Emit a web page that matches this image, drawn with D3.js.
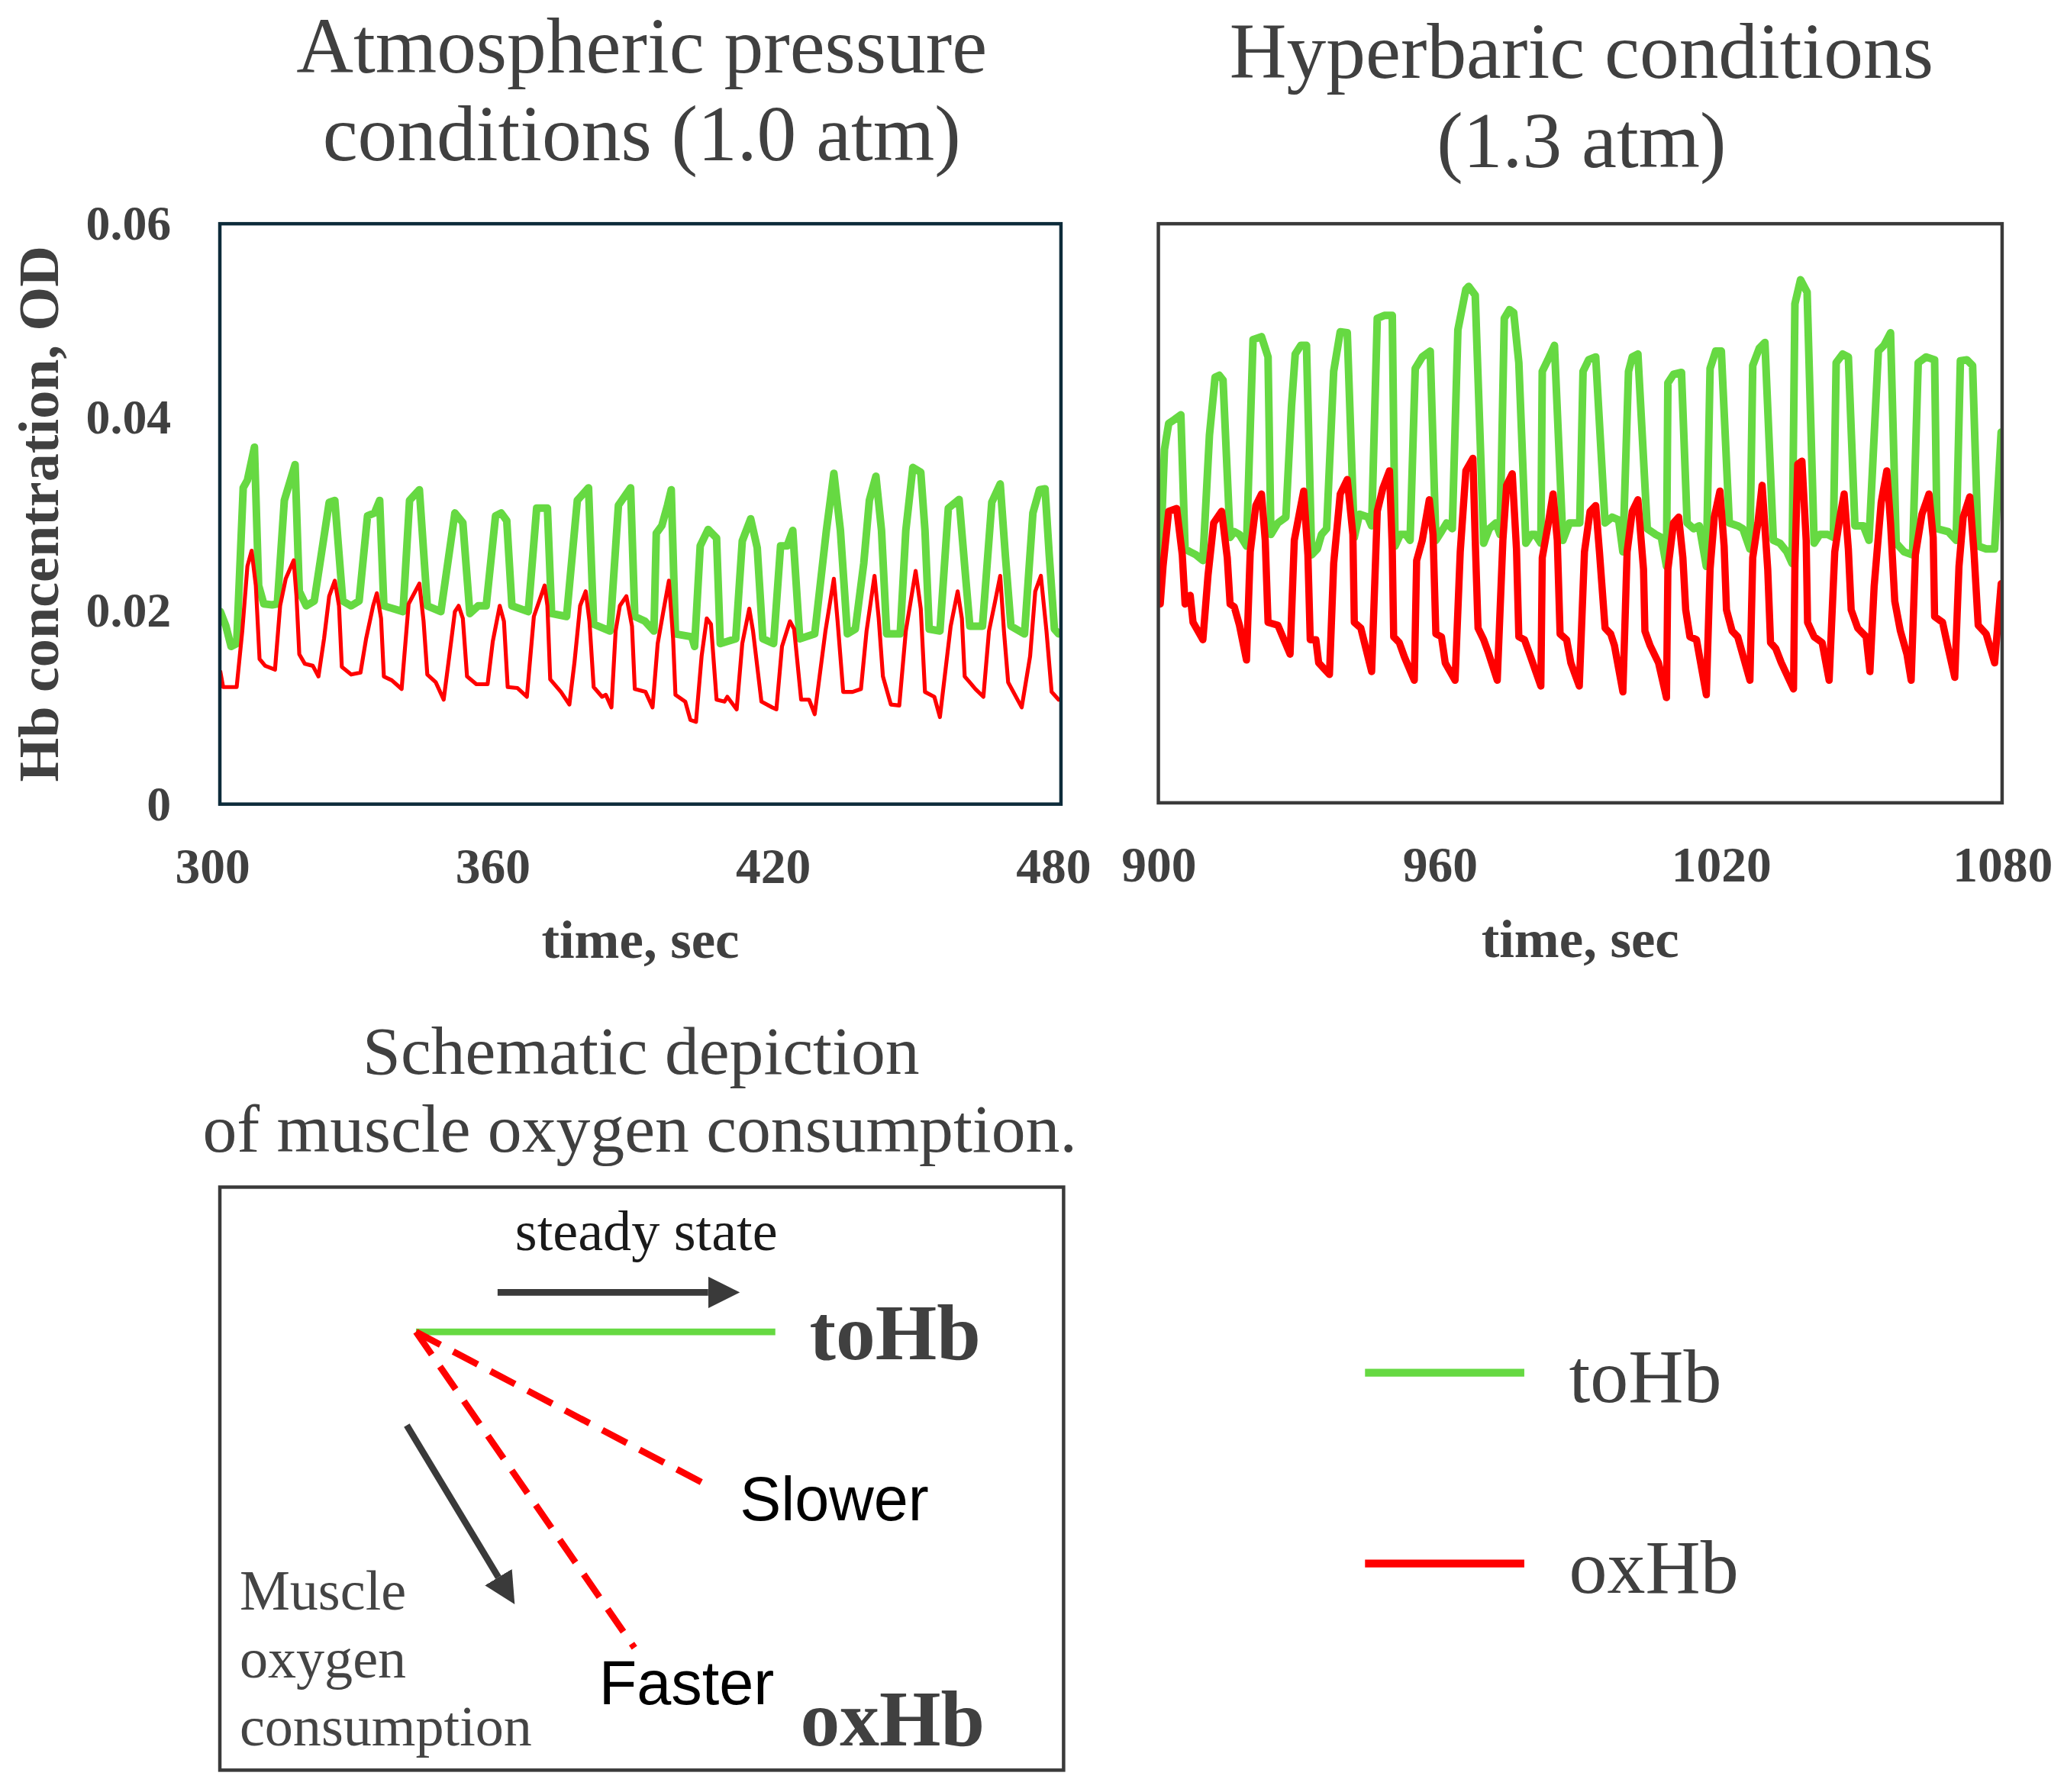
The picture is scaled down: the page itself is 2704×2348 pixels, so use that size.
<!DOCTYPE html>
<html>
<head>
<meta charset="utf-8">
<script src="https://cdn.jsdelivr.net/npm/d3@7"></script>
<style>
  html, body { margin: 0; padding: 0; background: #fff; }
  svg { display: block; }
</style>
</head>
<body>
<div id="chart"></div>
<script>
// ---- data (time in sec, Hb concentration in OD) ----
const yTicks = [0, 0.02, 0.04, 0.06];
const atmTicks = [300, 360, 420, 480];
const hypTicks = [900, 960, 1020, 1080];

const atmToHb = [
  [300.1,0.0199],[301.3,0.0184],[302.4,0.0163],[303.6,0.0166],[305.0,0.0327],[305.9,0.0335],[307.4,0.0369],
  [308.3,0.0226],[309.4,0.0207],[311.2,0.0206],[312.3,0.0207],[313.8,0.0314],[316.1,0.0351],[317.0,0.0220],
  [318.5,0.0205],[320.2,0.0210],[323.4,0.0312],[324.6,0.0314],[326.3,0.0210],[328.1,0.0205],[329.8,0.0210],
  [331.6,0.0298],[333.1,0.0301],[334.2,0.0314],[335.1,0.0205],[339.2,0.0199],[340.6,0.0314],[342.7,0.0325],
  [344.4,0.0205],[347.3,0.0199],[350.3,0.0301],[352.0,0.0291],[353.5,0.0197],[355.3,0.0205],[357.0,0.0205],
  [359.0,0.0298],[360.2,0.0301],[361.4,0.0293],[362.5,0.0205],[366.0,0.0199],[367.8,0.0306],[370.1,0.0306],
  [371.0,0.0197],[374.2,0.0194],[376.5,0.0314],[378.9,0.0327],[380.0,0.0186],[383.5,0.0179],[385.3,0.0309],
  [387.9,0.0327],[388.8,0.0194],[391.0,0.0189],[392.9,0.0179],[393.4,0.0280],[394.6,0.0288],[395.8,0.0309],
  [396.6,0.0325],[397.5,0.0176],[401.0,0.0173],[401.6,0.0163],[402.8,0.0267],[404.5,0.0284],[406.3,0.0275],
  [407.1,0.0166],[410.4,0.0171],[411.8,0.0272],[413.6,0.0295],[415.0,0.0265],[416.2,0.0171],[418.5,0.0166],
  [420.0,0.0267],[421.4,0.0267],[422.6,0.0283],[424.1,0.0171],[427.3,0.0176],[429.8,0.0283],[431.4,0.0342],
  [432.8,0.0283],[434.3,0.0176],[436.0,0.0181],[437.8,0.0249],[439.0,0.0314],[440.4,0.0339],[441.6,0.0283],
  [442.7,0.0176],[445.6,0.0176],[446.8,0.0283],[448.3,0.0348],[450.0,0.0343],[450.9,0.0283],[451.8,0.0181],
  [454.1,0.0179],[455.9,0.0306],[458.2,0.0315],[459.4,0.0246],[460.5,0.0184],[463.2,0.0184],[465.2,0.0312],
  [467.0,0.0331],[468.1,0.0257],[469.3,0.0184],[472.2,0.0176],[474.0,0.0301],[475.4,0.0325],[476.6,0.0326],
  [477.5,0.0257],[478.6,0.0181],[479.5,0.0176]
];

const atmOxHb = [
  [300.1,0.0137],[300.7,0.0121],[303.6,0.0121],[304.8,0.0179],[305.9,0.0246],[306.8,0.0262],[307.7,0.0226],
  [308.5,0.0150],[309.7,0.0143],[311.8,0.0139],[312.9,0.0205],[314.1,0.0233],[315.8,0.0252],[316.4,0.0215],
  [317.0,0.0155],[318.2,0.0145],[319.9,0.0143],[321.1,0.0132],[322.3,0.0171],[323.4,0.0215],[324.6,0.0231],
  [325.5,0.0205],[326.1,0.0142],[328.1,0.0134],[330.1,0.0136],[331.3,0.0171],[332.8,0.0205],[333.6,0.0218],
  [334.5,0.0192],[335.1,0.0132],[336.8,0.0128],[338.9,0.0119],[340.4,0.0207],[342.7,0.0228],[343.6,0.0189],
  [344.4,0.0134],[346.2,0.0126],[347.9,0.0108],[349.1,0.0153],[350.3,0.0199],[351.1,0.0205],[352.0,0.0192],
  [352.9,0.0132],[354.9,0.0124],[357.3,0.0124],[358.4,0.0168],[359.9,0.0205],[360.8,0.0189],[361.6,0.0121],
  [363.7,0.0120],[365.7,0.0111],[367.2,0.0194],[369.5,0.0226],[370.1,0.0205],[370.7,0.0129],[373.0,0.0116],
  [374.8,0.0103],[375.9,0.0147],[377.1,0.0205],[378.3,0.0220],[379.1,0.0189],[380.0,0.0121],[381.8,0.0111],
  [382.6,0.0113],[383.8,0.0100],[384.7,0.0179],[385.6,0.0205],[387.0,0.0215],[388.2,0.0184],[388.8,0.0119],
  [391.1,0.0116],[392.6,0.0100],[393.7,0.0166],[394.9,0.0199],[396.1,0.0231],[397.0,0.0171],[397.5,0.0113],
  [399.6,0.0106],[400.7,0.0087],[401.9,0.0085],[403.1,0.0153],[404.2,0.0192],[405.1,0.0186],[406.3,0.0108],
  [408.0,0.0106],[408.6,0.0111],[410.6,0.0098],[411.8,0.0166],[413.3,0.0202],[414.1,0.0179],[415.9,0.0106],
  [418.2,0.0100],[419.1,0.0098],[420.3,0.0163],[422.0,0.0189],[422.9,0.0181],[424.4,0.0108],[426.1,0.0108],
  [427.3,0.0093],[429.6,0.0179],[431.4,0.0233],[432.2,0.0189],[433.4,0.0116],[435.4,0.0116],[437.2,0.0119],
  [438.4,0.0179],[440.1,0.0236],[441.0,0.0192],[441.9,0.0132],[443.6,0.0103],[445.4,0.0102],[446.8,0.0179],
  [448.9,0.0241],[450.0,0.0202],[450.9,0.0116],[452.9,0.0111],[454.1,0.0090],[456.4,0.0184],[457.9,0.0220],
  [458.8,0.0192],[459.4,0.0132],[461.7,0.0119],[463.4,0.0111],[464.6,0.0179],[465.8,0.0207],[467.0,0.0236],
  [467.8,0.0179],[468.7,0.0126],[471.6,0.0100],[473.4,0.0153],[474.5,0.0220],[475.7,0.0236],[476.9,0.0179],
  [478.0,0.0116],[479.5,0.0108]
];

const hypToHb = [
  [900.4,0.0251],[901.3,0.0366],[902.2,0.0393],[903.4,0.0397],[904.8,0.0402],[905.7,0.0263],[906.8,0.0260],
  [908.0,0.0257],[909.5,0.0251],[910.9,0.0381],[912.1,0.0441],[913.0,0.0443],[913.8,0.0438],[915.3,0.0275],
  [916.2,0.0281],[917.3,0.0278],[918.8,0.0266],[920.2,0.0480],[922.0,0.0483],[923.4,0.0462],[924.0,0.0278],
  [925.5,0.0290],[927.2,0.0296],[928.4,0.0411],[929.2,0.0465],[930.4,0.0474],[931.6,0.0474],[932.7,0.0257],
  [933.9,0.0263],[934.8,0.0278],[935.9,0.0284],[937.4,0.0447],[938.8,0.0488],[940.3,0.0487],[941.8,0.0275],
  [942.9,0.0299],[944.7,0.0296],[945.5,0.0287],[946.7,0.0502],[948.2,0.0505],[949.9,0.0505],[950.5,0.0266],
  [951.6,0.0278],[952.8,0.0278],[953.7,0.0272],[954.8,0.0450],[956.3,0.0462],[958.0,0.0468],[959.2,0.0272],
  [960.4,0.0281],[961.5,0.0290],[962.7,0.0284],[963.9,0.0490],[965.6,0.0532],[966.2,0.0535],[967.6,0.0526],
  [969.4,0.0269],[970.6,0.0284],[972.0,0.0290],[972.9,0.0278],[973.8,0.0502],[974.9,0.0511],[975.8,0.0508],
  [976.9,0.0456],[978.4,0.0269],[979.6,0.0278],[980.4,0.0278],[981.6,0.0269],[981.9,0.0447],[983.1,0.0459],
  [984.5,0.0474],[986.3,0.0272],[987.7,0.0290],[989.9,0.0290],[990.6,0.0447],[991.8,0.0459],[993.3,0.0462],
  [995.3,0.0290],[996.8,0.0296],[998.2,0.0293],[999.1,0.0260],[1000.3,0.0447],[1001.1,0.0462],[1002.3,0.0465],
  [1004.3,0.0284],[1006.1,0.0278],[1007.3,0.0275],[1008.4,0.0245],[1008.7,0.0435],[1009.9,0.0444],[1011.6,0.0446],
  [1012.8,0.0290],[1014.2,0.0284],[1015.4,0.0287],[1016.9,0.0245],[1017.7,0.0450],[1018.9,0.0468],[1020.1,0.0468],
  [1021.8,0.0290],[1023.6,0.0287],[1024.7,0.0284],[1026.2,0.0263],[1026.8,0.0453],[1028.2,0.0471],[1029.4,0.0477],
  [1031.2,0.0272],[1032.6,0.0269],[1034.1,0.0260],[1035.2,0.0248],[1035.8,0.0517],[1037.0,0.0542],[1038.4,0.0529],
  [1039.9,0.0269],[1041.1,0.0278],[1042.8,0.0278],[1044.0,0.0275],[1044.6,0.0456],[1046.0,0.0465],[1047.2,0.0462],
  [1048.6,0.0287],[1050.4,0.0287],[1051.6,0.0272],[1053.6,0.0468],[1054.8,0.0474],[1056.2,0.0487],[1057.4,0.0269],
  [1059.1,0.0260],[1060.9,0.0257],[1062.1,0.0456],[1063.8,0.0462],[1065.6,0.0459],[1066.1,0.0284],[1068.5,0.0281],
  [1070.2,0.0272],[1071.1,0.0458],[1072.5,0.0459],[1073.7,0.0453],[1074.9,0.0266],[1076.6,0.0263],[1078.4,0.0263],
  [1079.8,0.0384]
];

const hypOxHb = [
  [900.4,0.0206],[901.0,0.0245],[902.2,0.0302],[903.9,0.0305],[905.1,0.0257],[905.7,0.0206],[906.8,0.0215],
  [907.4,0.0187],[909.5,0.0169],[910.6,0.0236],[911.8,0.0290],[913.5,0.0302],[914.7,0.0254],[915.3,0.0206],
  [916.2,0.0203],[917.3,0.0184],[918.8,0.0148],[919.6,0.0260],[920.8,0.0308],[922.0,0.0320],[922.8,0.0272],
  [923.4,0.0187],[925.5,0.0184],[928.1,0.0154],[929.0,0.0272],[930.4,0.0308],[931.0,0.0323],[931.9,0.0257],
  [932.4,0.0169],[933.6,0.0169],[934.2,0.0145],[936.5,0.0133],[937.4,0.0248],[938.8,0.0320],[940.3,0.0335],
  [941.5,0.0278],[941.8,0.0187],[943.2,0.0181],[945.5,0.0136],[946.7,0.0302],[947.9,0.0326],[949.3,0.0344],
  [949.9,0.0263],[950.2,0.0172],[951.4,0.0166],[952.5,0.0151],[954.6,0.0127],[955.1,0.0251],[956.3,0.0272],
  [957.8,0.0314],[958.6,0.0278],[959.2,0.0175],[960.4,0.0172],[961.2,0.0145],[963.3,0.0127],[964.4,0.0260],
  [965.6,0.0344],[967.1,0.0357],[967.6,0.0272],[968.2,0.0181],[969.4,0.0169],[970.3,0.0157],[972.3,0.0127],
  [973.5,0.0272],[974.3,0.0329],[975.5,0.0341],[976.4,0.0263],[976.9,0.0172],[978.1,0.0169],[979.0,0.0157],
  [981.6,0.0121],[981.9,0.0254],[983.1,0.0287],[984.2,0.0320],[985.1,0.0272],[985.7,0.0175],[987.1,0.0169],
  [988.0,0.0145],[989.8,0.0121],[990.9,0.0260],[992.1,0.0302],[993.3,0.0308],[994.1,0.0260],[995.3,0.0181],
  [996.5,0.0175],[997.3,0.0163],[999.1,0.0115],[1000.0,0.0260],[1001.1,0.0302],[1002.3,0.0314],[1003.5,0.0242],
  [1003.8,0.0178],[1004.9,0.0163],[1006.7,0.0145],[1008.4,0.0109],[1008.7,0.0242],[1009.9,0.0290],[1011.0,0.0296],
  [1011.9,0.0254],[1012.5,0.0200],[1013.4,0.0172],[1014.8,0.0169],[1016.9,0.0112],[1017.7,0.0242],[1018.6,0.0296],
  [1019.8,0.0323],[1020.7,0.0266],[1021.2,0.0200],[1022.4,0.0178],[1023.6,0.0172],[1026.2,0.0127],[1026.8,0.0254],
  [1027.9,0.0290],[1028.8,0.0329],[1030.0,0.0242],[1030.6,0.0166],[1031.7,0.0160],[1032.9,0.0145],[1035.5,0.0118],
  [1035.8,0.0248],[1036.4,0.0351],[1037.3,0.0354],[1038.2,0.0272],[1038.5,0.0187],[1039.9,0.0172],[1041.6,0.0166],
  [1043.1,0.0127],[1044.3,0.0260],[1045.4,0.0296],[1046.3,0.0320],[1047.2,0.0263],[1047.8,0.0200],[1049.2,0.0181],
  [1051.0,0.0172],[1051.8,0.0136],[1052.7,0.0224],[1054.2,0.0311],[1055.4,0.0344],[1056.2,0.0290],[1057.1,0.0209],
  [1058.3,0.0178],[1059.7,0.0154],[1060.6,0.0127],[1061.5,0.0257],[1062.9,0.0299],[1064.4,0.0320],[1065.3,0.0275],
  [1065.6,0.0193],[1067.3,0.0187],[1068.5,0.0160],[1069.9,0.0130],[1070.8,0.0245],[1071.7,0.0296],[1073.1,0.0317],
  [1074.0,0.0260],[1074.9,0.0184],[1076.6,0.0175],[1078.4,0.0145],[1079.8,0.0227]
];

const seriesNames = ["toHb", "oxHb"];
const seriesColors = ["#66d942", "#ff0000"];

// ---- layout ----
const W = 1568, H = 1361.6;
const serif = '"Liberation Serif", "Times New Roman", serif';
const sans = '"Liberation Sans", Arial, sans-serif';
const textGray = "#404040";

const svg = d3.select("#chart").append("svg")
  .attr("width", 2704)
  .attr("height", 2348)
  .attr("viewBox", `0 0 ${W} ${H}`);

svg.append("rect").attr("width", W).attr("height", H).attr("fill", "#fff");

const panels = [
  {
    id: "atm", title: ["Atmospheric pressure", "conditions (1.0 atm)"], titleY: [55, 122],
    left: 167, right: 806, top: 170, bottom: 611, domain: [300, 480], ticks: atmTicks,
    toHb: atmToHb, oxHb: atmOxHb, frame: "#0d2b3a", widths: [5.8, 3], tickDx: -6, yAxis: true
  },
  {
    id: "hyp", title: ["Hyperbaric conditions", "(1.3 atm)"], titleY: [59, 127],
    left: 880, right: 1521, top: 170, bottom: 610, domain: [900, 1080], ticks: hypTicks,
    toHb: hypToHb, oxHb: hypOxHb, frame: "#3a3a3a", widths: [5.8, 5.5], tickDx: 0, yAxis: false
  }
];

panels.forEach(p => {
  const x = d3.scaleLinear().domain(p.domain).range([p.left, p.right]);
  const y = d3.scaleLinear().domain([0, 0.06]).range([p.bottom, p.top]);
  const cx = (p.left + p.right) / 2;

  // title
  const title = svg.append("text")
    .attr("text-anchor", "middle")
    .attr("font-family", serif)
    .attr("font-size", 60)
    .attr("fill", textGray);
  p.title.forEach((line, i) => {
    title.append("tspan").attr("x", cx + 1).attr("y", p.titleY[i]).text(line);
  });

  // clip so the traces stay inside the frame
  svg.append("clipPath").attr("id", "clip-" + p.id)
    .append("rect")
    .attr("x", p.left).attr("y", p.top)
    .attr("width", p.right - p.left).attr("height", p.bottom - p.top);

  const line = d3.line()
    .x(d => x(d[0]))
    .y(d => y(d[1]));

  const g = svg.append("g").attr("clip-path", `url(#clip-${p.id})`);
  [p.toHb, p.oxHb].forEach((data, i) => {
    g.append("path")
      .datum(data)
      .attr("fill", "none")
      .attr("stroke", seriesColors[i])
      .attr("stroke-width", p.widths[i])
      .attr("stroke-linejoin", "round")
      .attr("stroke-linecap", "round")
      .attr("d", line);
  });

  // frame
  svg.append("rect")
    .attr("x", p.left).attr("y", p.top)
    .attr("width", p.right - p.left).attr("height", p.bottom - p.top)
    .attr("fill", "none")
    .attr("stroke", p.frame)
    .attr("stroke-width", 2.6);

  // x axis
  const xAxis = svg.append("g")
    .attr("transform", `translate(0,${p.bottom})`)
    .call(d3.axisBottom(x).tickValues(p.ticks).tickSize(0).tickPadding(33).tickFormat(d3.format("d")));
  xAxis.select(".domain").remove();
  xAxis.selectAll("text")
    .attr("dx", p.tickDx)
    .attr("font-family", serif)
    .attr("font-weight", "bold")
    .attr("font-size", 38)
    .attr("fill", textGray);

  svg.append("text")
    .attr("x", cx)
    .attr("y", p.bottom + 117)
    .attr("text-anchor", "middle")
    .attr("font-family", serif)
    .attr("font-weight", "bold")
    .attr("font-size", 41)
    .attr("fill", textGray)
    .text("time, sec");

  if (p.yAxis) {
    const yAxis = svg.append("g")
      .attr("transform", `translate(${p.left},0)`)
      .call(d3.axisLeft(y).tickValues(yTicks).tickSize(0).tickPadding(37)
        .tickFormat(d => d === 0 ? "0" : d3.format(".2f")(d)));
    yAxis.select(".domain").remove();
    yAxis.selectAll("text")
      .attr("font-family", serif)
      .attr("font-weight", "bold")
      .attr("font-size", 37)
      .attr("fill", textGray);

    svg.append("text")
      .attr("transform", `translate(44,${(p.top + p.bottom) / 2}) rotate(-90)`)
      .attr("text-anchor", "middle")
      .attr("font-family", serif)
      .attr("font-weight", "bold")
      .attr("font-size", 43)
      .attr("fill", textGray)
      .text("Hb concentration, OD");
  }
});

// ---- legend ----
const legend = svg.append("g").attr("transform", "translate(1037,1043)");
seriesNames.forEach((name, i) => {
  const row = legend.append("g").attr("transform", `translate(0,${i * 145})`);
  row.append("line")
    .attr("x1", 0).attr("x2", 121)
    .attr("stroke", seriesColors[i])
    .attr("stroke-width", 6);
  row.append("text")
    .attr("x", 155).attr("y", 22)
    .attr("font-family", serif)
    .attr("font-size", 58)
    .attr("fill", textGray)
    .text(name);
});

// ---- schematic ----
const sch = svg.append("g");
sch.append("text")
  .attr("text-anchor", "middle")
  .attr("font-family", serif)
  .attr("font-size", 52)
  .attr("fill", textGray)
  .call(t => {
    t.append("tspan").attr("x", 487).attr("y", 816).text("Schematic depiction");
    t.append("tspan").attr("x", 486).attr("y", 875).text("of muscle oxygen consumption.");
  });

sch.append("rect")
  .attr("x", 167).attr("y", 902)
  .attr("width", 641).attr("height", 443)
  .attr("fill", "none")
  .attr("stroke", "#3a3a3a")
  .attr("stroke-width", 2.6);

const defs = svg.append("defs");
defs.append("marker")
  .attr("id", "head")
  .attr("markerUnits", "userSpaceOnUse")
  .attr("viewBox", "0 0 24 24")
  .attr("refX", 0).attr("refY", 12)
  .attr("markerWidth", 24).attr("markerHeight", 24)
  .attr("orient", "auto")
  .append("path")
  .attr("d", "M0,0 L24,12 L0,24 Z")
  .attr("fill", "#3a3a3a");

function arrow(x1, y1, x2, y2) {
  const len = Math.hypot(x2 - x1, y2 - y1);
  const ux = (x2 - x1) / len, uy = (y2 - y1) / len;
  sch.append("line")
    .attr("x1", x1).attr("y1", y1)
    .attr("x2", x2 - ux * 24).attr("y2", y2 - uy * 24)
    .attr("stroke", "#3a3a3a")
    .attr("stroke-width", 5)
    .attr("marker-end", "url(#head)");
}

const origin = [316, 1012];
sch.append("line")
  .attr("x1", origin[0]).attr("y1", origin[1])
  .attr("x2", 589).attr("y2", origin[1])
  .attr("stroke", seriesColors[0])
  .attr("stroke-width", 5);
[[540, 1130], [482, 1252]].forEach(end => {
  sch.append("line")
    .attr("x1", origin[0]).attr("y1", origin[1])
    .attr("x2", end[0]).attr("y2", end[1])
    .attr("stroke", seriesColors[1])
    .attr("stroke-width", 5)
    .attr("stroke-dasharray", "21,11");
});

arrow(378, 982, 562, 982);
arrow(309, 1083, 391, 1219);

sch.append("text")
  .attr("x", 491).attr("y", 950)
  .attr("text-anchor", "middle")
  .attr("font-family", serif)
  .attr("font-size", 43)
  .attr("fill", "#1a1a1a")
  .text("steady state");

[["toHb", 615, 1033], ["oxHb", 608, 1326]].forEach(([label, tx, ty]) => {
  sch.append("text")
    .attr("x", tx).attr("y", ty)
    .attr("font-family", serif)
    .attr("font-weight", "bold")
    .attr("font-size", 60)
    .attr("fill", textGray)
    .text(label);
});

[["Slower", 562, 1155], ["Faster", 455, 1295]].forEach(([label, tx, ty]) => {
  sch.append("text")
    .attr("x", tx).attr("y", ty)
    .attr("font-family", sans)
    .attr("font-size", 47)
    .attr("fill", "#000")
    .text(label);
});

sch.append("text")
  .attr("font-family", serif)
  .attr("font-size", 43)
  .attr("fill", "#444")
  .call(t => {
    ["Muscle", "oxygen", "consumption"].forEach((w, i) => {
      t.append("tspan").attr("x", 182).attr("y", 1223 + i * 51.5).text(w);
    });
  });
</script>
</body>
</html>
